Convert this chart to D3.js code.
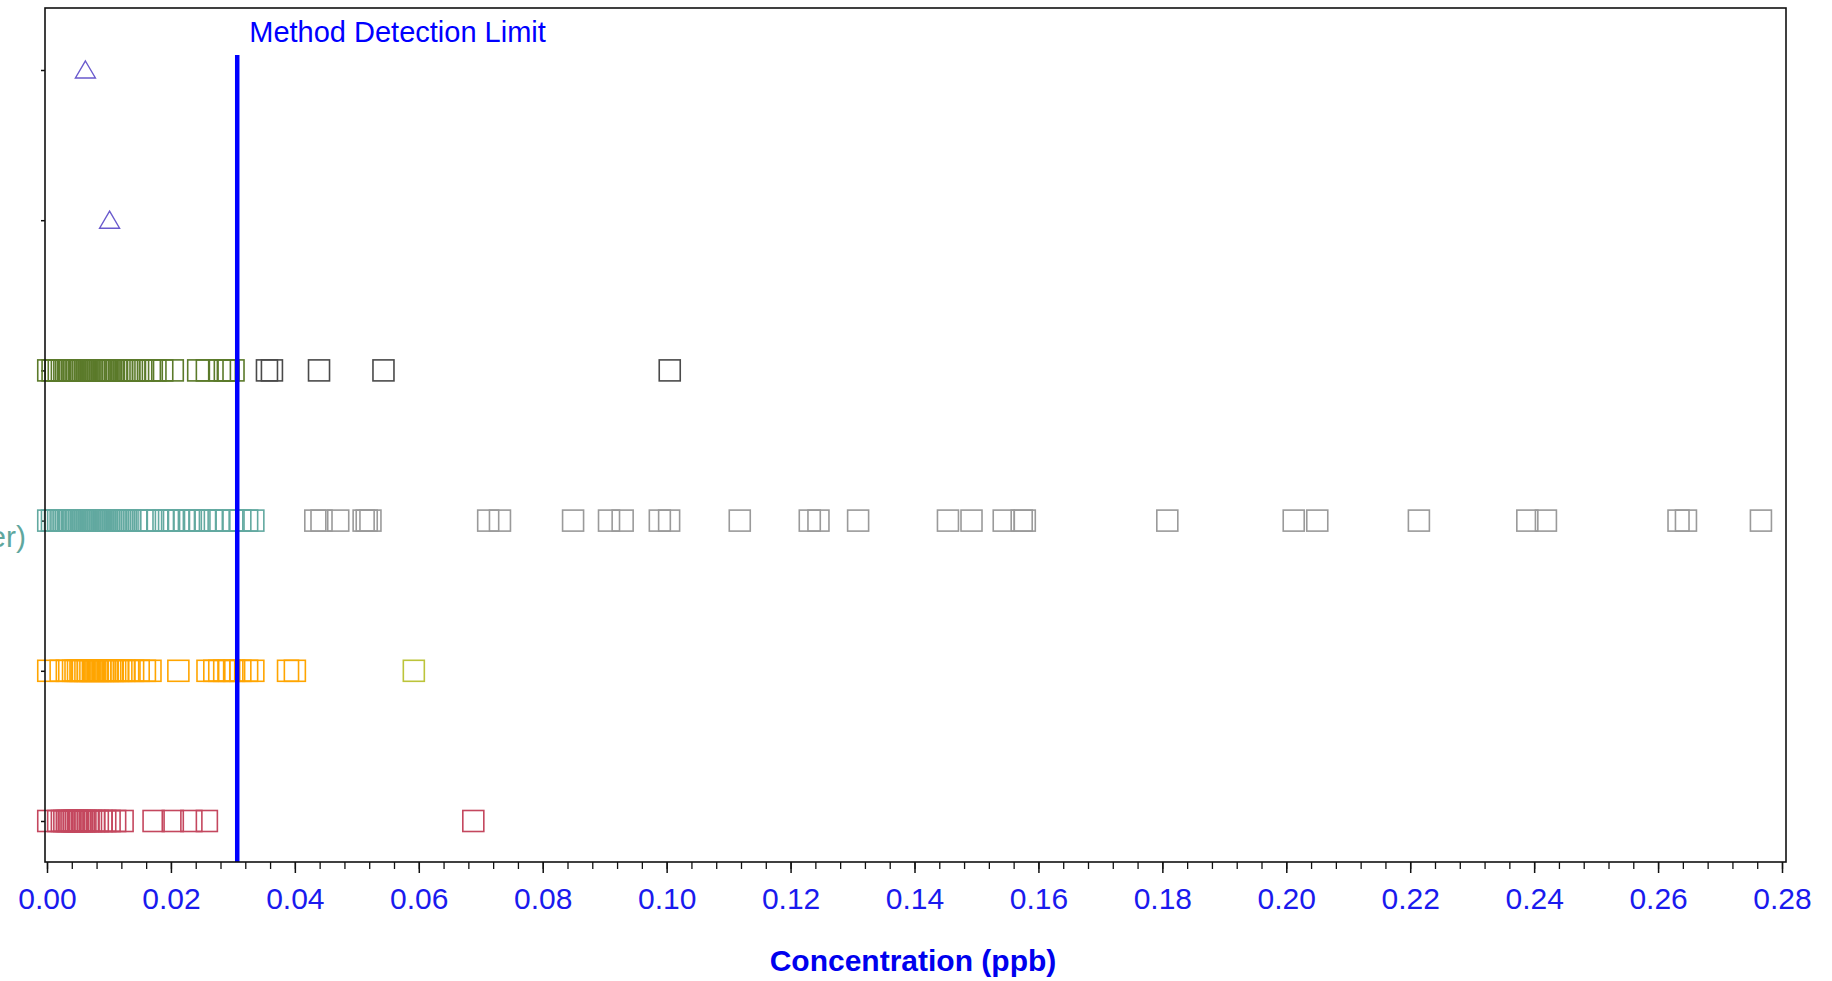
<!DOCTYPE html>
<html><head><meta charset="utf-8">
<script src="https://cdn.jsdelivr.net/npm/d3@7"></script>
<style>html,body{margin:0;padding:0;background:#fff;overflow:hidden}</style>
</head><body>
<svg id="c" width="1832" height="981"></svg>
<script>
// ---------------- data ----------------
const categories = ["row1", "row2", "row3", "row4", "row5", "row6"];
const rowLabels = ["", "", "", "er)", "", ""];

const triRow1 = [0.0062];
const triRow2 = [0.0101];

const oliveValues = [0.0002, 0.0009, 0.0014, 0.0019, 0.0024, 0.0028, 0.0031, 0.0034, 0.0037, 0.004,
  0.0043, 0.0046, 0.0049, 0.0052, 0.0055, 0.0058, 0.0061, 0.0064, 0.0067, 0.007, 0.0073, 0.0076,
  0.0079, 0.0082, 0.0085, 0.0088, 0.0091, 0.0094, 0.0097, 0.0101, 0.0106, 0.0112, 0.0117, 0.0121,
  0.0125, 0.0129, 0.0133, 0.0137, 0.0142, 0.0147, 0.0155, 0.0166, 0.0175, 0.0186, 0.0203, 0.0244,
  0.0258, 0.0279, 0.0287, 0.0293, 0.0301];
const oliveDetects = [0.0355, 0.0363, 0.0439, 0.0543, 0.1005];

const tealValues = [0.0002, 0.0008, 0.0013, 0.0018, 0.0022, 0.0025, 0.0028, 0.0031, 0.0034, 0.0037,
  0.004, 0.0043, 0.0046, 0.0049, 0.0052, 0.0055, 0.0058, 0.0061, 0.0064, 0.0067, 0.007, 0.0073,
  0.0076, 0.0079, 0.0082, 0.0085, 0.0088, 0.0091, 0.0094, 0.0097, 0.01, 0.0103, 0.0106, 0.0109,
  0.0112, 0.0115, 0.0118, 0.0121, 0.0124, 0.0127, 0.013, 0.0134, 0.0145, 0.0158, 0.0168, 0.0178,
  0.0188, 0.0197, 0.0205, 0.0213, 0.0221, 0.0229, 0.0237, 0.0246, 0.0256, 0.0266, 0.0277, 0.0289,
  0.0301, 0.0312, 0.0323, 0.0333];
const tealDetects = [0.0433, 0.0443, 0.047, 0.0511, 0.0516, 0.0522, 0.0712, 0.0731, 0.0849, 0.0907,
  0.0929, 0.0989, 0.1004, 0.1118, 0.1231, 0.1245, 0.1309, 0.1454, 0.1492, 0.1544, 0.1573, 0.1578,
  0.1808, 0.2012, 0.205, 0.2214, 0.2389, 0.2419, 0.2633, 0.2645, 0.2766];

const orangeValues = [0.0002, 0.0022, 0.0032, 0.0042, 0.0046, 0.005, 0.0054, 0.0058, 0.0062, 0.0066,
  0.007, 0.0074, 0.0078, 0.0082, 0.0086, 0.009, 0.0094, 0.0098, 0.0102, 0.0106, 0.011, 0.0115,
  0.012, 0.0125, 0.0131, 0.0139, 0.0148, 0.0158, 0.0167, 0.0212, 0.0259, 0.027, 0.0278, 0.0286,
  0.0294, 0.0302, 0.0312, 0.0323, 0.0333, 0.0389, 0.04];
const orangeDetects = [0.0592];

const redValues = [0.0002, 0.0018, 0.0024, 0.0028, 0.0032, 0.0035, 0.0038, 0.0041, 0.0044, 0.0047,
  0.005, 0.0053, 0.0056, 0.0059, 0.0062, 0.0066, 0.0071, 0.0076, 0.0082, 0.0088, 0.0094, 0.0101,
  0.011, 0.0122, 0.0172, 0.0203, 0.0233, 0.0258, 0.0688];

const xTickValues = [0, 0.02, 0.04, 0.06, 0.08, 0.10, 0.12, 0.14, 0.16, 0.18, 0.20, 0.22, 0.24, 0.26, 0.28];
const xTickLabels = ["0.00", "0.02", "0.04", "0.06", "0.08", "0.10", "0.12", "0.14", "0.16", "0.18",
  "0.20", "0.22", "0.24", "0.26", "0.28"];
const minorStep = 0.004;
const mdlValue = 0.0307;
const mdlLabel = "Method Detection Limit";
const xTitle = "Concentration (ppb)";

// --------------- series table -------------
const series = [
  {cat: "row1", values: triRow1, shape: "tri", color: "#6a5acd"},
  {cat: "row2", values: triRow2, shape: "tri", color: "#6a5acd"},
  {cat: "row3", values: oliveValues, shape: "sq", color: "#5b7a2a"},
  {cat: "row3", values: oliveDetects, shape: "sq", color: "#4a4a4a"},
  {cat: "row4", values: tealValues, shape: "sq", color: "#62a9a0"},
  {cat: "row4", values: tealDetects, shape: "sq", color: "#9a9a9a"},
  {cat: "row5", values: orangeValues, shape: "sq", color: "#ffa500"},
  {cat: "row5", values: orangeDetects, shape: "sq", color: "#bcc43a"},
  {cat: "row6", values: redValues, shape: "sq", color: "#c4475e"}
];

// --------------- drawing ----------------
const svg = d3.select("#c");
const FONT = "'Liberation Sans', Arial, sans-serif";
const frame = {left: 45, top: 8, right: 1786, bottom: 862};

const x = d3.scaleLinear().domain([0, 0.28]).range([47, 1782]);
const y = d3.scalePoint().domain(categories).range([70, 821]);

svg.append("defs").append("clipPath").attr("id", "plotclip")
  .append("rect").attr("x", 0).attr("y", frame.top)
  .attr("width", frame.right).attr("height", frame.bottom - frame.top);

// minor ticks
const minorVals = d3.range(0, 0.28 + 1e-9, minorStep);
const minorAxis = svg.append("g").attr("transform", `translate(0,${frame.bottom})`)
  .call(d3.axisBottom(x).tickValues(minorVals).tickSize(7).tickFormat(""));
minorAxis.select(".domain").remove();
minorAxis.selectAll("line").attr("stroke", "#111").attr("stroke-width", 1.3);

// major ticks + labels
const majorAxis = svg.append("g").attr("transform", `translate(0,${frame.bottom})`)
  .call(d3.axisBottom(x).tickValues(xTickValues).tickSize(11).tickPadding(15)
    .tickFormat((d, i) => xTickLabels[i]));
majorAxis.select(".domain").remove();
majorAxis.selectAll("line").attr("stroke", "#111").attr("stroke-width", 1.5);
majorAxis.selectAll("text").attr("fill", "#1a1aee").style("font-family", FONT).style("font-size", "30px");

// left ticks
const leftAxis = svg.append("g").attr("transform", `translate(${frame.left},0)`)
  .call(d3.axisLeft(y).tickSize(4).tickFormat(""));
leftAxis.select(".domain").remove();
leftAxis.selectAll("line").attr("stroke", "#111").attr("stroke-width", 1.5);

// row labels (only the visible fragment)
svg.append("g").selectAll("text").data(categories).join("text")
  .attr("x", 26).attr("y", d => y(d) + 26)
  .attr("text-anchor", "end")
  .style("font-family", FONT).style("font-size", "30px")
  .attr("fill", "#5fa79e")
  .text((d, i) => rowLabels[i]);

// markers
const plot = svg.append("g").attr("clip-path", "url(#plotclip)");
const SQ = 21;
const triPath = "M0,-9 L10,8 L-10,8 Z";
series.forEach(s => {
  const g = plot.append("g");
  if (s.shape === "sq") {
    g.selectAll("rect").data(s.values).join("rect")
      .attr("x", d => x(d) - SQ / 2).attr("y", y(s.cat) - SQ / 2)
      .attr("width", SQ).attr("height", SQ)
      .attr("fill", "none").attr("stroke", s.color).attr("stroke-width", 1.6);
  } else {
    g.selectAll("path").data(s.values).join("path")
      .attr("transform", d => `translate(${x(d)},${y(s.cat)})`)
      .attr("d", triPath)
      .attr("fill", "none").attr("stroke", s.color).attr("stroke-width", 1.4);
  }
});

// MDL line
svg.append("line").attr("x1", x(mdlValue)).attr("x2", x(mdlValue))
  .attr("y1", 55).attr("y2", frame.bottom)
  .attr("stroke", "#0000ff").attr("stroke-width", 4.5);
svg.append("text").attr("x", x(mdlValue) + 12).attr("y", 42)
  .style("font-family", FONT).style("font-size", "29px")
  .attr("fill", "#0000ff").text(mdlLabel);

// frame
svg.append("rect").attr("x", frame.left).attr("y", frame.top)
  .attr("width", frame.right - frame.left).attr("height", frame.bottom - frame.top)
  .attr("fill", "none").attr("stroke", "#111").attr("stroke-width", 1.6);

// x title
svg.append("text").attr("x", 913).attr("y", 971).attr("text-anchor", "middle")
  .style("font-family", FONT).style("font-size", "30px").style("font-weight", "bold")
  .attr("fill", "#0000ee").text(xTitle);
</script>
</body></html>
